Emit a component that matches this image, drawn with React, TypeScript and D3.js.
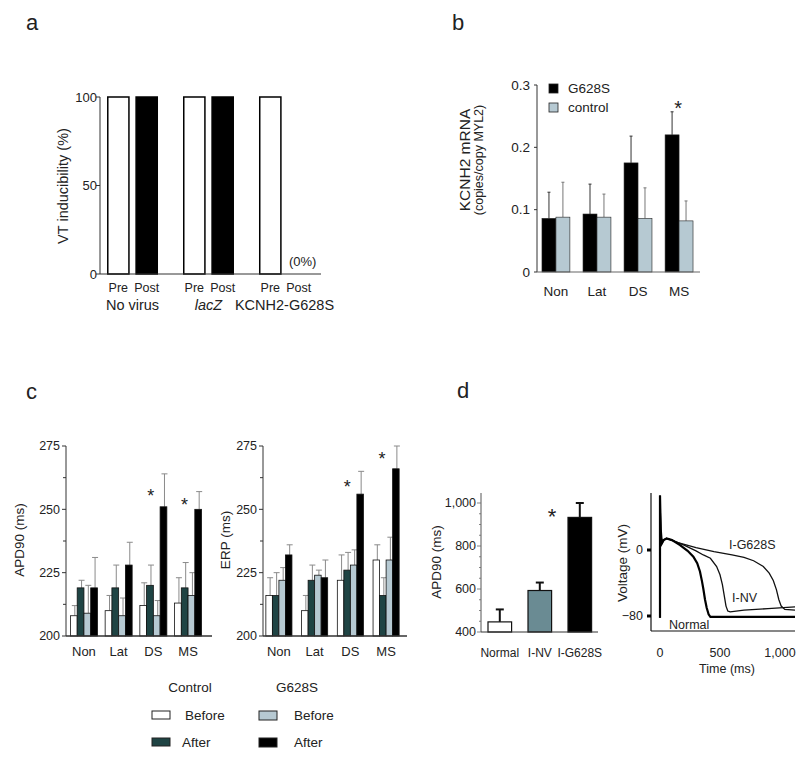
import React from 'react';
import * as d3 from 'd3';

const FONT = '"Liberation Sans", Arial, sans-serif';
const INK = '#222';
const AXIS = '#333';

// panel a
const aGroups = ['No virus', 'lacZ', 'KCNH2-G628S'];
const aPhases = ['Pre', 'Post'];
const aPre = [100, 100, 100];
const aPost = [100, 100, 0];
const aTicks = [0, 50, 100];

// panel b
const bSites = ['Non', 'Lat', 'DS', 'MS'];
const bKeys = ['G628S', 'control'];
const bG628S = [0.086, 0.093, 0.175, 0.22];
const bG628SErr = [0.042, 0.048, 0.043, 0.037];
const bControl = [0.088, 0.088, 0.086, 0.082];
const bControlErr = [0.056, 0.037, 0.049, 0.032];
const bTicks = [0, 0.1, 0.2, 0.3];

// panel c
const cSites = ['Non', 'Lat', 'DS', 'MS'];
const cKeys = ['ctrlBefore', 'ctrlAfter', 'gBefore', 'gAfter'];
const cTicks = [200, 225, 250, 275];
const cMinor = [212.5, 237.5, 262.5];
const apdCtrlBefore = [208, 210, 212, 213];
const apdCtrlBeforeErr = [4, 6, 9, 10];
const apdCtrlAfter = [219, 219, 220, 219];
const apdCtrlAfterErr = [3, 9, 8, 10];
const apdGBefore = [209, 208, 208, 216];
const apdGBeforeErr = [11, 7, 6, 9];
const apdGAfter = [219, 228, 251, 250];
const apdGAfterErr = [12, 9, 13, 7];
const erpCtrlBefore = [216, 210, 222, 230];
const erpCtrlBeforeErr = [7, 6, 10, 6];
const erpCtrlAfter = [216, 222, 226, 216];
const erpCtrlAfterErr = [9, 6, 7, 7];
const erpGBefore = [222, 224, 228, 230];
const erpGBeforeErr = [5, 2, 6, 9];
const erpGAfter = [232, 223, 256, 266];
const erpGAfterErr = [4, 7, 9, 9];

// panel d
const dGroups = ['Normal', 'I-NV', 'I-G628S'];
const dApd = [447, 593, 933];
const dApdErr = [58, 37, 67];
const dTicks = [400, 600, 800, 1000];
const tTicks = [0, 500, 1000];
const vTicks = [0, -80];
const traceNormal: [number, number][] = [
  [0, -82], [0, 66], [6, 25], [15, 8], [30, 12], [55, 14], [100, 12], [167, 6], [230, -1],
  [278, -8], [310, -16], [333, -26], [350, -38], [361, -47], [375, -60], [389, -70],
  [405, -78], [420, -81], [600, -81], [800, -81], [1125, -81],
];
const traceNV: [number, number][] = [
  [0, -82], [0, 66], [6, 25], [15, 8], [30, 12], [55, 14], [100, 12], [200, 6], [300, -1],
  [361, -6], [420, -10], [472, -20], [500, -30], [520, -42], [535, -55], [550, -68],
  [565, -74], [585, -75], [700, -73], [900, -71], [1125, -69],
];
const traceG: [number, number][] = [
  [0, -82], [0, 66], [6, 25], [15, 8], [30, 12], [55, 14], [150, 9], [300, 3], [450, -2],
  [600, -6], [700, -9], [780, -13], [861, -20], [910, -28], [944, -37], [970, -48],
  [990, -60], [1010, -68], [1040, -72], [1125, -73],
];

const COL = {
  white: '#ffffff',
  green: '#1f4444',
  light: '#b6c9d2',
  black: '#000000',
  slate: '#6a8b93',
};

const Star = ({ x, y, size = 20 }: { x: number; y: number; size?: number }) => (
  <text x={x} y={y + size * 0.55} fontSize={size} textAnchor="middle" fill={INK}>*</text>
);

const ErrBar = ({ x, y0, y1, color, w = 6, sw = 1 }: any) => (
  <g stroke={color} strokeWidth={sw}>
    <line x1={x} x2={x} y1={y0} y2={y1} />
    <line x1={x - w / 2} x2={x + w / 2} y1={y1} y2={y1} />
  </g>
);

const PanelC = ({ x0, x1, axisEnd, pi, po, series, errs, label, labelX, stars }: any) => {
  const y = d3.scaleLinear().domain([200, 275]).range([636, 446]);
  const x = d3.scaleBand().domain(cSites).range([x0, x1]).paddingInner(pi).paddingOuter(po);
  const xi = d3.scaleBand().domain(cKeys).range([0, x.bandwidth()]);
  const fills = [COL.white, COL.green, COL.light, COL.black];
  return (
    <g>
      {cSites.map((s, i) => (
        <g key={s} transform={`translate(${x(s)},0)`}>
          {cKeys.map((k, j) => {
            const v = series[j][i];
            const bx = xi(k) as number;
            const bw = xi.bandwidth();
            return (
              <g key={k}>
                <ErrBar x={bx + bw / 2 + 1} y0={y(v)} y1={y(v + errs[j][i])} color="#8a8a8a" w={6} />
                <rect x={bx} y={y(v)} width={bw} height={y(200) - y(v)} fill={fills[j]} stroke="#111" strokeWidth={0.8} />
              </g>
            );
          })}
          <text x={x.bandwidth() / 2} y={656} fontSize={13} textAnchor="middle" fill={INK}>{s}</text>
        </g>
      ))}
      <line x1={x0} x2={x0} y1={y(275)} y2={y(200)} stroke={AXIS} />
      <line x1={x0} x2={axisEnd} y1={y(200)} y2={y(200)} stroke={AXIS} strokeWidth={1.5} />
      {cTicks.map((t) => (
        <g key={t}>
          <line x1={x0 - 4} x2={x0} y1={y(t)} y2={y(t)} stroke={AXIS} />
          <text x={x0 - 6} y={y(t)} dy="0.35em" fontSize={12.5} textAnchor="end" fill={INK}>{t}</text>
        </g>
      ))}
      {cMinor.map((t) => (
        <line key={t} x1={x0 - 3} x2={x0} y1={y(t)} y2={y(t)} stroke={AXIS} />
      ))}
      <text transform={`translate(${labelX},540) rotate(-90)`} fontSize={13.5} textAnchor="middle" fill={INK}>{label}</text>
      {stars.map((s: any, i: number) => {
        const idx = cSites.indexOf(s.site);
        return <Star key={i} x={(x(s.site) as number) + s.dx} y={y(series[3][idx] + errs[3][idx]) + s.dy} size={18} />;
      })}
    </g>
  );
};

const App = () => {
  // panel a
  const yA = d3.scaleLinear().domain([0, 100]).range([274, 97]);
  const xA = d3.scaleBand().domain(aGroups).range([97, 320]).paddingInner(0.329).paddingOuter(0.132);
  const xAin = d3.scaleBand().domain(aPhases).range([0, xA.bandwidth()]).paddingInner(0.2);

  // panel b
  const yB = d3.scaleLinear().domain([0, 0.3]).range([272, 85]);
  const xB = d3.scaleBand().domain(bSites).range([535, 700]).paddingInner(0.32).paddingOuter(0.17);
  const xBin = d3.scaleBand().domain(bKeys).range([0, xB.bandwidth()]);
  const bVals = [bG628S, bControl];
  const bErrs = [bG628SErr, bControlErr];
  const bFill = [COL.black, COL.light];

  // panel d bars
  const yD = d3.scaleLinear().domain([400, 1000]).range([632, 503]);
  const xD = d3.scaleBand().domain(dGroups).range([481, 598.6]).paddingInner(0.41).paddingOuter(0.175);
  const dFill = [COL.white, COL.slate, COL.black];
  const fmt = d3.format(',');

  // panel d traces
  const xT = d3.scaleLinear().domain([0, 1000]).range([660, 780]);
  const yT = d3.scaleLinear().domain([-80, 0]).range([616, 550]);
  const line = d3.line<[number, number]>().x((d) => xT(d[0])).y((d) => yT(d[1]));

  return (
    <svg width={800} height={757} style={{ position: 'absolute', left: 0, top: 0 }} fontFamily={FONT}>
      <rect width={800} height={757} fill="#fff" />
      {/* panel labels */}
      <text x={26} y={30} fontSize={22} fill={INK}>a</text>
      <text x={452} y={30} fontSize={22} fill={INK}>b</text>
      <text x={26} y={399} fontSize={22} fill={INK}>c</text>
      <text x={457} y={398} fontSize={22} fill={INK}>d</text>

      {/* panel a */}
      <g>
        {aGroups.map((g, i) => (
          <g key={g} transform={`translate(${xA(g)},0)`}>
            {aPhases.map((p, j) => {
              const v = j === 0 ? aPre[i] : aPost[i];
              return (
                <g key={p}>
                  {v > 0 && (
                    <rect x={(xAin(p) as number) + 0.75} y={yA(v)} width={xAin.bandwidth() - 1.5} height={yA(0) - yA(v)}
                      fill={j === 0 ? COL.white : COL.black} stroke="#000" strokeWidth={1.5} />
                  )}
                  <text x={(xAin(p) as number) + xAin.bandwidth() / 2} y={292} fontSize={12.5} textAnchor="middle" fill={INK}>{p}</text>
                </g>
              );
            })}
            <text x={xA.bandwidth() / 2} y={310} fontSize={14.5} textAnchor="middle" fill={INK}
              fontStyle={g === 'lacZ' ? 'italic' : 'normal'}>{g}</text>
          </g>
        ))}
        <text x={(xA('KCNH2-G628S') as number) + (xAin('Post') as number) + xAin.bandwidth() / 2 + 4} y={266} fontSize={13} textAnchor="middle" fill={INK}>(0%)</text>
        <line x1={100} x2={100} y1={yA(100)} y2={yA(0)} stroke={AXIS} />
        <line x1={100} x2={321} y1={yA(0)} y2={yA(0)} stroke={AXIS} />
        {aTicks.map((t) => (
          <g key={t}>
            <line x1={96} x2={100} y1={yA(t)} y2={yA(t)} stroke={AXIS} />
            <text x={97} y={yA(t)} dy="0.35em" fontSize={13} textAnchor="end" fill={INK}>{t}</text>
          </g>
        ))}
        <text transform="translate(68,186) rotate(-90)" fontSize={14.5} textAnchor="middle" fill={INK}>VT inducibility (%)</text>
      </g>

      {/* panel b */}
      <g>
        {bSites.map((s, i) => (
          <g key={s} transform={`translate(${xB(s)},0)`}>
            {bKeys.map((k, j) => {
              const v = bVals[j][i];
              const bx = xBin(k) as number;
              return (
                <g key={k}>
                  <ErrBar x={bx + xBin.bandwidth() / 2} y0={yB(v)} y1={yB(v + bErrs[j][i])} color={j === 0 ? '#333' : '#777'} w={3} />
                  <rect x={bx} y={yB(v)} width={xBin.bandwidth()} height={yB(0) - yB(v)} fill={bFill[j]} stroke="#222" strokeWidth={0.6} />
                </g>
              );
            })}
            <text x={xB.bandwidth() / 2} y={296} fontSize={13.5} textAnchor="middle" fill={INK}>{s}</text>
          </g>
        ))}
        <Star x={(xB('MS') as number) + xBin.bandwidth() - 1} y={yB(bG628S[3] + bG628SErr[3]) - 8} size={20} />
        <line x1={537} x2={537} y1={yB(0.3)} y2={yB(0)} stroke={AXIS} />
        <line x1={537} x2={700} y1={yB(0)} y2={yB(0)} stroke="#666" strokeWidth={1.2} />
        {bTicks.map((t) => (
          <g key={t}>
            <line x1={534} x2={537} y1={yB(t)} y2={yB(t)} stroke={AXIS} />
            <text x={530} y={yB(t)} dy="0.35em" fontSize={13.5} textAnchor="end" fill={INK}>{t === 0 ? '0' : t.toFixed(1)}</text>
          </g>
        ))}
        <text transform="translate(470,160) rotate(-90)" fontSize={15.5} textAnchor="middle" fill={INK}>KCNH2 mRNA</text>
        <text transform="translate(483,160) rotate(-90)" fontSize={12.5} textAnchor="middle" fill={INK}>(copies/copy MYL2)</text>
        {bKeys.map((k, j) => (
          <g key={k} transform={`translate(549,${84 + j * 19})`}>
            <rect width={9} height={9} fill={bFill[j]} stroke="#222" strokeWidth={0.8} />
            <text x={19} y={4.5} dy="0.35em" fontSize={13.5} fill={INK}>{k}</text>
          </g>
        ))}
      </g>

      {/* panel c */}
      <PanelC x0={66} x1={206} axisEnd={212} pi={0.222} po={0.128}
        series={[apdCtrlBefore, apdCtrlAfter, apdGBefore, apdGAfter]}
        errs={[apdCtrlBeforeErr, apdCtrlAfterErr, apdGBeforeErr, apdGAfterErr]}
        label="APD90 (ms)" labelX={24}
        stars={[{ site: 'DS', dx: 11, dy: 18 }, { site: 'MS', dx: 10, dy: 9 }]} />
      <PanelC x0={263} x1={402} axisEnd={407} pi={0.27} po={0.08}
        series={[erpCtrlBefore, erpCtrlAfter, erpGBefore, erpGAfter]}
        errs={[erpCtrlBeforeErr, erpCtrlAfterErr, erpGBeforeErr, erpGAfterErr]}
        label="ERP (ms)" labelX={230}
        stars={[{ site: 'DS', dx: 10, dy: 12 }, { site: 'MS', dx: 9, dy: 9 }]} />

      {/* legend c */}
      <g fontSize={13.5} fill={INK}>
        <text x={190} y={692} textAnchor="middle" fill={INK}>Control</text>
        <rect x={152} y={711} width={18} height={8} fill={COL.white} stroke="#222" />
        <text x={185} y={720} fill={INK}>Before</text>
        <rect x={152} y={738} width={18} height={8} fill={COL.green} stroke="#222" />
        <text x={182} y={747} fill={INK}>After</text>
        <text x={297} y={692} textAnchor="middle" fill={INK}>G628S</text>
        <rect x={259} y={711} width={18} height={9} fill={COL.light} stroke="#222" />
        <text x={294} y={720} fill={INK}>Before</text>
        <rect x={259} y={738} width={18} height={9} fill={COL.black} stroke="#222" />
        <text x={294} y={747} fill={INK}>After</text>
      </g>

      {/* panel d bars */}
      <g>
        {dGroups.map((g, i) => {
          const bx = xD(g) as number;
          const bw = xD.bandwidth();
          return (
            <g key={g}>
              <ErrBar x={bx + bw / 2} y0={yD(dApd[i])} y1={yD(dApd[i] + dApdErr[i])} color="#111" w={8} sw={2} />
              <rect x={bx} y={yD(dApd[i])} width={bw} height={yD(400) - yD(dApd[i])} fill={dFill[i]} stroke="#111" strokeWidth={1.2} />
              <text x={bx + bw / 2} y={657} fontSize={12} textAnchor="middle" fill={INK}>{g}</text>
            </g>
          );
        })}
        <Star x={552} y={yD(1000) + 9} size={22} />
        <line x1={481} x2={481} y1={493} y2={yD(400)} stroke="#555" />
        <line x1={481} x2={598} y1={yD(400)} y2={yD(400)} stroke={AXIS} />
        {d3.range(400, 1050, 50).map((t) => (
          <line key={t} x1={t % 200 === 0 ? 477 : 479} x2={481} y1={yD(t)} y2={yD(t)} stroke="#666" strokeWidth={0.8} />
        ))}
        {dTicks.map((t) => (
          <text key={t} x={476} y={yD(t)} dy="0.35em" fontSize={12.5} textAnchor="end" fill={INK}>{fmt(t)}</text>
        ))}
        <text transform="translate(441,562) rotate(-90)" fontSize={13.5} textAnchor="middle" fill={INK}>APD90 (ms)</text>
      </g>

      {/* panel d traces */}
      <g>
        <path d={line(traceG) || ''} fill="none" stroke="#111" strokeWidth={1.3} />
        <path d={line(traceNV) || ''} fill="none" stroke="#111" strokeWidth={1.3} />
        <path d={line(traceNormal) || ''} fill="none" stroke="#000" strokeWidth={2.2} />
        <line x1={651} x2={651} y1={493} y2={631} stroke="#111" strokeWidth={1.2} />
        <line x1={651} x2={795} y1={631} y2={631} stroke="#111" strokeWidth={1.2} />
        {vTicks.map((v) => (
          <g key={v}>
            <rect x={647} y={yT(v) - 1.5} width={4} height={3} fill="#000" />
            <text x={643} y={yT(v)} dy="0.35em" fontSize={12.5} textAnchor="end" fill={INK}>{v < 0 ? `\u2212${-v}` : v}</text>
          </g>
        ))}
        {tTicks.map((t) => (
          <text key={t} x={xT(t)} y={657} fontSize={12.5} textAnchor="middle" fill={INK}>{fmt(t)}</text>
        ))}
        <text x={727} y={673} fontSize={12.5} textAnchor="middle" fill={INK}>Time (ms)</text>
        <text transform="translate(627,563) rotate(-90)" fontSize={13.5} textAnchor="middle" fill={INK}>Voltage (mV)</text>
        <text x={729} y={549} fontSize={12.5} fill={INK}>I-G628S</text>
        <text x={732} y={602} fontSize={12.5} fill={INK}>I-NV</text>
        <text x={669} y={629} fontSize={12.5} fill={INK}>Normal</text>
      </g>
    </svg>
  );
};

export default App;
